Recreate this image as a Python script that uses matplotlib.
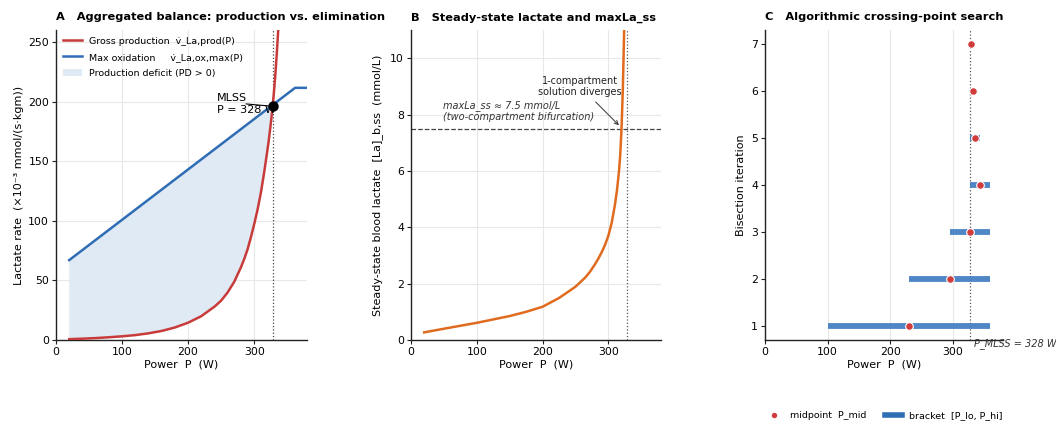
import numpy as np
import matplotlib
matplotlib.use("Agg")
import matplotlib.pyplot as plt
from matplotlib.patches import Patch
from matplotlib.lines import Line2D

plt.rcParams['font.family'] = ['DejaVu Sans']

# ---------------- data ----------------
P_MLSS = 328
La_MLSS = 196
maxLa_ss = 7.5

# Panel A: gross lactate production (x10^-3 mmol/(s*kgm))
prod_P = [20, 40, 60, 80, 100, 120, 140, 160, 180, 200, 220, 240, 250, 260, 270,
          280, 285, 290, 295, 300, 305, 310, 315, 320, 322, 324, 326, 328, 330,
          332, 334, 336, 338]
prod_v = [0.7, 1.1, 1.6, 2.3, 3.1, 4.1, 5.6, 7.6, 10.5, 14.5, 20, 28, 33, 40, 49,
          61, 68, 76, 86, 97, 109, 123, 140, 159, 167, 176, 185.5, 196, 208,
          222, 238, 256, 276]
# Panel A: max oxidation
ox_P = [20, 362, 380]
ox_v = [67, 211.5, 211.5]

# Panel B: steady-state blood lactate (mmol/L)
ss_P = [20, 50, 100, 150, 175, 200, 225, 250, 265, 272, 280, 285, 290, 295, 300,
        305, 310, 313, 316, 318, 320, 322, 324, 325]
ss_v = [0.27, 0.40, 0.61, 0.85, 1.0, 1.18, 1.49, 1.89, 2.22, 2.42, 2.7, 2.9, 3.12,
        3.38, 3.7, 4.15, 4.8, 5.3, 5.95, 6.55, 7.5, 8.9, 11.0, 12.5]

# Panel C: bisection iterations
iters = [1, 2, 3, 4, 5, 6, 7]
P_lo = [100, 230, 295, 327.5, 327.5, 327.5, 327.5]
P_hi = [360, 360, 360, 360, 343.75, 335.6, 331.6]
P_mid = [230, 295, 327.5, 343.75, 335.6, 331.6, 329.5]

# ---------------- style ----------------
RED = '#c83b3b'
BLUE = '#2f6db5'
FILL = '#dfeaf5'
ORANGE = '#e06b1f'
GRID = '#e8e8e8'
TICK_FS = 7.8
LAB_FS = 8
TITLE_FS = 8.2
W, H = 1056, 423

fig = plt.figure(figsize=(W / 100, H / 100), dpi=100)


def ax_at(l, r, t, b):
    return fig.add_axes([l / W, (H - b) / H, (r - l) / W, (b - t) / H])


def style(ax, grid_y=True):
    for s in ('top', 'right'):
        ax.spines[s].set_visible(False)
    for s in ('left', 'bottom'):
        ax.spines[s].set_color('#222222')
        ax.spines[s].set_linewidth(1.0)
    ax.tick_params(labelsize=TICK_FS, length=3, width=0.8, color='#222222', pad=2)
    ax.grid(True, axis='x', color=GRID, lw=0.8)
    if grid_y:
        ax.grid(True, axis='y', color=GRID, lw=0.8)
    ax.set_axisbelow(True)


# ---------------- Panel A ----------------
axA = ax_at(56, 307, 30, 340)
style(axA)
pP = np.array(prod_P)
pv = np.array(prod_v)
m = pP <= P_MLSS
poly_x = np.r_[ox_P[0], pP[m][::-1]]
poly_y = np.r_[ox_v[0], pv[m][::-1]]
axA.fill(poly_x, poly_y, color=FILL, lw=0, zorder=1)
axA.plot(prod_P, prod_v, color=RED, lw=1.8, zorder=3)
axA.plot(ox_P, ox_v, color=BLUE, lw=1.8, zorder=3)
axA.axvline(P_MLSS, color='#444444', ls=':', lw=0.9, zorder=2)
axA.plot([P_MLSS], [La_MLSS], 'o', color='black', ms=6.5, zorder=5)
axA.annotate('MLSS\nP = 328 W', xy=(P_MLSS, La_MLSS), xytext=(243, 198),
             ha='left', va='center', fontsize=8,
             arrowprops=dict(arrowstyle='-', color='black', lw=0.8,
                             shrinkA=0, shrinkB=0))
axA.set_xlim(0, 380)
axA.set_ylim(0, 260)
axA.set_xticks([0, 100, 200, 300])
axA.set_yticks([0, 50, 100, 150, 200, 250])
axA.set_xlabel('Power  P  (W)', fontsize=LAB_FS, labelpad=2)
axA.set_ylabel('Lactate rate  (×10⁻³ mmol/(s·kgm))', fontsize=LAB_FS, labelpad=3)
axA.set_title('A   Aggregated balance: production vs. elimination', loc='left',
              fontsize=TITLE_FS, fontweight='bold', pad=7)
hA = [Line2D([], [], color=RED, lw=1.8),
      Line2D([], [], color=BLUE, lw=1.8),
      Patch(facecolor=FILL, edgecolor='none')]
axA.legend(hA, ['Gross production  v\u0307_La,prod(P)',
                'Max oxidation     v\u0307_La,ox,max(P)',
                'Production deficit (PD > 0)'],
           loc='upper left', fontsize=6.8, frameon=False,
           handlelength=2.0, borderaxespad=0.3, labelspacing=0.75)

# ---------------- Panel B ----------------
axB = ax_at(411, 661, 30, 340)
style(axB)
axB.plot(ss_P, ss_v, color=ORANGE, lw=1.8, zorder=3)
axB.axhline(maxLa_ss, color='#444444', ls='--', lw=0.9, zorder=2)
axB.axvline(P_MLSS, color='#555555', ls=':', lw=0.9, zorder=2)
axB.text(48, 7.72, 'maxLa_ss ≈ 7.5 mmol/L\n(two-compartment bifurcation)',
         fontsize=7, style='italic', color='#333333', ha='left', va='bottom')
axB.annotate('1-compartment\nsolution diverges', xy=(319, 7.55), xytext=(257, 9.0),
             ha='center', va='center', fontsize=7, color='#222222',
             arrowprops=dict(arrowstyle='->', color='#333333', lw=0.7))
axB.set_xlim(0, 380)
axB.set_ylim(0, 11)
axB.set_xticks([0, 100, 200, 300])
axB.set_yticks([0, 2, 4, 6, 8, 10])
axB.set_xlabel('Power  P  (W)', fontsize=LAB_FS, labelpad=2)
axB.set_ylabel('Steady-state blood lactate  [La]_b,ss  (mmol/L)', fontsize=LAB_FS,
               labelpad=5)
axB.set_title('B   Steady-state lactate and maxLa_ss', loc='left',
              fontsize=TITLE_FS, fontweight='bold', pad=7)

# ---------------- Panel C ----------------
axC = ax_at(765, 1003, 30, 340)
style(axC, grid_y=False)
axC.hlines(iters, P_lo, P_hi, color='#4580c3', lw=4.2, alpha=0.95, zorder=3)
axC.plot(P_mid, iters, 'o', color='#d03c3c', ms=5.5, mec='white', mew=0.8,
         zorder=4, ls='none')
axC.axvline(P_MLSS, color='#555555', ls=':', lw=0.9, zorder=2)
axC.text(P_MLSS + 5, 0.735, 'P_MLSS = 328 W', fontsize=7, style='italic',
         color='#333333', ha='left', va='top', clip_on=False)
axC.set_xlim(0, 380)
axC.set_ylim(0.7, 7.3)
axC.set_xticks([0, 100, 200, 300])
axC.set_yticks(iters)
axC.set_xlabel('Power  P  (W)', fontsize=LAB_FS, labelpad=2)
axC.set_ylabel('Bisection iteration', fontsize=LAB_FS, labelpad=4)
axC.set_title('C   Algorithmic crossing-point search', loc='left',
              fontsize=TITLE_FS, fontweight='bold', pad=7)
hC = [Line2D([], [], marker='o', color='#d03c3c', ls='none', ms=4.5,
             mec='white', mew=0.6),
      Line2D([], [], color=BLUE, lw=4)]
axC.legend(hC, ['midpoint  P_mid', 'bracket  [P_lo, P_hi]'], loc='center',
           bbox_to_anchor=(0.5, -0.245), ncol=2, frameon=False, fontsize=6.8,
           handlelength=1.8, columnspacing=2.0)

fig.savefig('out.png', dpi=100)
